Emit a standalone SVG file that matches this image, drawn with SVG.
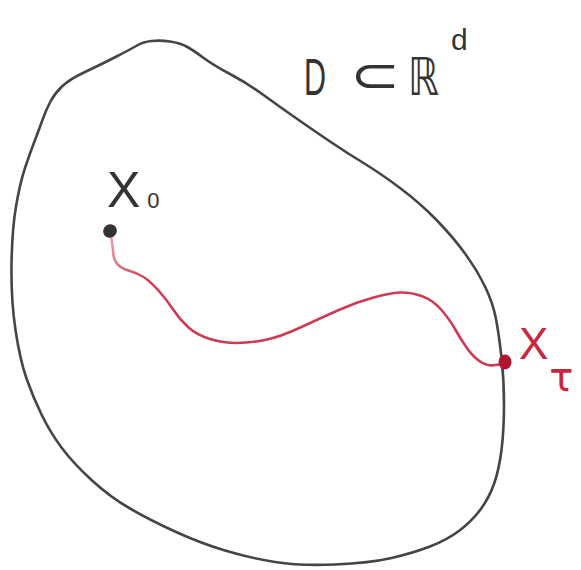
<svg xmlns="http://www.w3.org/2000/svg" width="581" height="570" viewBox="0 0 581 570">
<defs>
<style>
.bd{fill:none;stroke:#454545;stroke-width:2.6;stroke-linecap:round;stroke-linejoin:round}
.path{fill:none;stroke:url(#rg);stroke-width:2.6;stroke-linecap:round;stroke-linejoin:round}
.lbl{font-family:"Liberation Sans","DejaVu Sans",sans-serif;fill:#333}
.red{fill:#c8283f}
</style>
<linearGradient id="rg" gradientUnits="userSpaceOnUse" x1="111" y1="236" x2="150" y2="280">
<stop offset="0" stop-color="#eaa3b0"/>
<stop offset="1" stop-color="#cf3b52"/>
</linearGradient>
</defs>
<rect width="581" height="570" fill="#ffffff"/>
<g id="domain">
<path class="bd" d="M138,45 Q143,42 151.5,41 Q160,40 170,41.5 Q180,43 186.5,46.5 Q193,50 203,57.5 Q213,65 230,74 Q247,83 263.5,95 Q280,107 296.5,118.5 Q313,130 330,141.5 Q347,153 363.5,163 Q380,173 400,188 Q420,203 436.5,220 Q453,237 465,253.5 Q477,270 485,286.5 Q493,303 496,319 Q499,335 501.5,357.5 Q504,380 504,405 Q504,430 501.5,450 Q499,470 494,484 Q489,498 480.5,509.5 Q472,521 459.5,530.5 Q447,540 430,546.5 Q413,553 391.5,558 Q370,563 335,564.5 Q300,566 275,562 Q250,558 225,550.5 Q200,543 175,531.5 Q150,520 130,508.5 Q110,497 91.5,480 Q73,463 61.5,447.5 Q50,432 41.5,414.5 Q33,397 26.5,378.5 Q20,360 15.5,330 Q11,300 11.5,265 Q12,230 16,206.5 Q20,183 25,168 Q30,153 35,140 Q40,127 43,118.5 Q46,110 50.5,101.5 Q55,93 62.5,86 Q70,79 85,72 Q100,65 116.5,56.5 Q133,48 138,45 Z"/>
</g>
<g id="domain-label" class="lbl">
<text x="304" y="95" font-size="52" textLength="22" lengthAdjust="spacingAndGlyphs">D</text>
<text x="350" y="92" font-size="50" textLength="50" lengthAdjust="spacingAndGlyphs" font-family="DejaVu Sans, sans-serif">⊂</text>
<text x="408" y="95" font-size="52" textLength="31" lengthAdjust="spacingAndGlyphs" font-family="DejaVu Sans, sans-serif">ℝ</text>
<text x="451" y="50" font-size="30">d</text>
</g>
<g id="connectors">
<path class="path" d="M111,236 L113,250 Q113,258 116.5,263 Q120,268 128.5,270.5 Q137,273 143.5,277 Q150,281 158.5,290.5 Q167,300 173.5,310 Q180,320 188.5,327.5 Q197,335 210,339 Q223,343 236.5,343 Q250,343 265,340 Q280,337 301.5,327 Q323,317 340,309.5 Q357,302 373.5,297.5 Q390,293 400,292.5 Q410,292 421.5,296 Q433,300 441.5,310 Q450,320 455,329 Q460,338 466.5,347.5 Q473,357 481.5,362.5 Q490,368 505,363"/>
</g>
<g id="x0">
<ellipse cx="110" cy="231" rx="7" ry="6.5" fill="#333" transform="rotate(-30 110 231)"/>
<text class="lbl" x="107" y="207" font-size="50">X<tspan dx="7" dy="1" font-size="22">0</tspan></text>
</g>
<g id="xtau">
<ellipse cx="505" cy="362" rx="6.5" ry="7.5" fill="#b3142e"/>
<text class="lbl red" x="519" y="359" font-size="44">X<tspan dx="1" dy="32" font-size="40" font-family="DejaVu Sans, sans-serif">τ</tspan></text>
</g>
</svg>
